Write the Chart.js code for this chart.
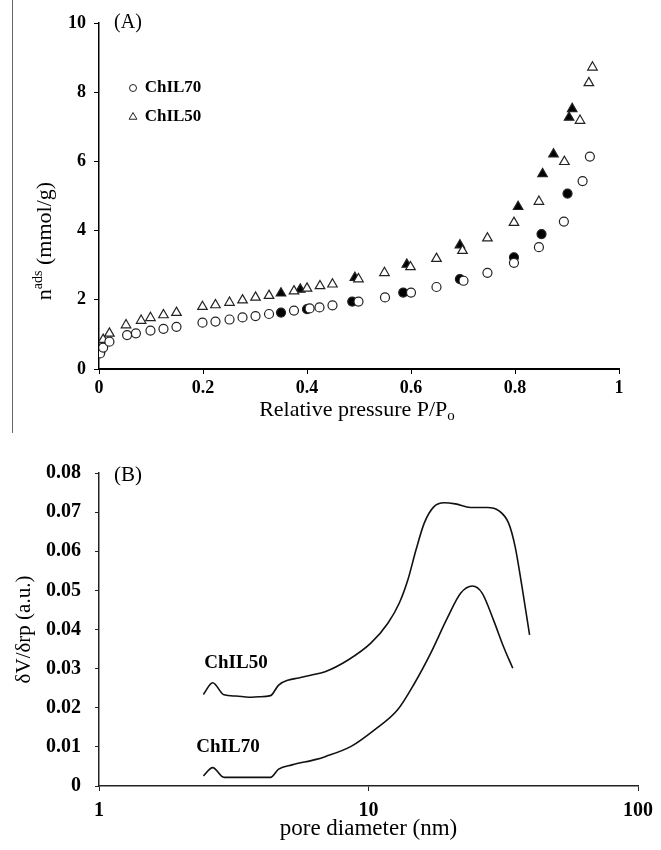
<!DOCTYPE html>
<html>
<head>
<meta charset="utf-8">
<title>Isotherms and pore size distribution</title>
<script src="https://cdn.jsdelivr.net/npm/chart.js@4.4.1/dist/chart.umd.min.js"></script>
<style>
  html, body { margin: 0; padding: 0; background: #fff; }
  #wrap { position: relative; width: 661px; height: 850px; overflow: hidden; }
  .box { position: absolute; left: 0; width: 661px; }
  #boxA { top: 0; height: 430px; }
  #boxB { top: 430px; height: 420px; }
  #edge { position: absolute; left: 12px; top: 0; height: 433px; border-left: 1.5px solid #666; }
</style>
</head>
<body>
<div id="wrap">
  <div id="edge"></div>
  <div class="box" id="boxA"><canvas id="chartA"></canvas></div>
  <div class="box" id="boxB"><canvas id="chartB"></canvas></div>
</div>
<script>
// (A) nitrogen isotherms, relative pressure vs amount adsorbed
const chil70AdsX = [0.002, 0.008, 0.02, 0.054, 0.071, 0.099, 0.124, 0.149, 0.199, 0.224, 0.251, 0.276, 0.301, 0.327, 0.375, 0.405, 0.424, 0.449, 0.499, 0.55, 0.60, 0.649, 0.701, 0.747, 0.798, 0.846, 0.894, 0.930, 0.944];
const chil70AdsY = [0.45, 0.62, 0.79, 0.98, 1.03, 1.11, 1.16, 1.22, 1.34, 1.37, 1.43, 1.49, 1.53, 1.59, 1.69, 1.75, 1.78, 1.84, 1.95, 2.07, 2.21, 2.37, 2.55, 2.78, 3.07, 3.52, 4.26, 5.43, 6.14];
const chil70DesX = [0.35, 0.40, 0.487, 0.585, 0.694, 0.798, 0.851, 0.901];
const chil70DesY = [1.63, 1.73, 1.95, 2.21, 2.60, 3.23, 3.90, 5.07];
const chil50AdsX = [0.002, 0.008, 0.02, 0.052, 0.081, 0.099, 0.124, 0.149, 0.199, 0.224, 0.251, 0.276, 0.301, 0.327, 0.375, 0.40, 0.425, 0.449, 0.499, 0.549, 0.599, 0.649, 0.699, 0.747, 0.798, 0.846, 0.895, 0.925, 0.942, 0.949];
const chil50AdsY = [0.55, 0.85, 1.03, 1.27, 1.40, 1.48, 1.56, 1.63, 1.80, 1.85, 1.92, 1.99, 2.07, 2.12, 2.25, 2.33, 2.40, 2.45, 2.60, 2.78, 2.95, 3.19, 3.42, 3.78, 4.23, 4.84, 5.99, 7.18, 8.27, 8.72];
const chil50DesX = [0.35, 0.387, 0.492, 0.592, 0.694, 0.806, 0.853, 0.874, 0.904, 0.910];
const chil50DesY = [2.19, 2.30, 2.64, 3.02, 3.58, 4.69, 5.64, 6.21, 7.27, 7.52];

// (B) pore size distribution
const chil50PoreX = [2.44, 2.64, 2.91, 3.22, 3.60, 3.92, 4.33, 4.64, 5.05, 5.5, 6.1, 6.9, 8.4, 10.2, 11.8, 13.0, 14.0, 15.0, 16.1, 17.5, 19.1, 21.0, 23.9, 27.6, 30.4, 33.1, 35.0, 37.1, 39.6];
const chil50PoreY = [0.0234, 0.0264, 0.0233, 0.0230, 0.0227, 0.0228, 0.0231, 0.0258, 0.0271, 0.0276, 0.0283, 0.0292, 0.0322, 0.0365, 0.0416, 0.0467, 0.0527, 0.0603, 0.0672, 0.0714, 0.0724, 0.0721, 0.0712, 0.0712, 0.0704, 0.0672, 0.0612, 0.0510, 0.0386];
const chil70PoreX = [2.44, 2.64, 2.91, 3.6, 4.33, 4.64, 5.2, 6.4, 6.9, 8.65, 10.5, 12.8, 14.8, 17.0, 19.6, 22.0, 24.3, 26.4, 29.1, 31.7, 34.3];
const chil70PoreY = [0.0026, 0.0047, 0.0022, 0.0022, 0.0022, 0.0043, 0.0054, 0.0068, 0.0075, 0.0102, 0.0143, 0.0194, 0.0262, 0.0339, 0.0429, 0.0493, 0.0511, 0.0493, 0.0424, 0.0356, 0.0301];

const tickXA = [0, 0.2, 0.4, 0.6, 0.8, 1];
const tickXB = [1, 10, 100];

const SERIF = '"Liberation Serif", "Times New Roman", "DejaVu Serif", serif';

function pairs(xs, ys) {
  return xs.map((x, i) => ({ x: x, y: ys[i] }));
}

// draws text made of runs [text, size, dy, weight] so sub/superscripts work
function drawRuns(ctx, runs, x, y, rotate) {
  let total = 0;
  runs.forEach(r => {
    ctx.font = (r[3] || 'normal') + ' ' + r[1] + 'px ' + SERIF;
    total += ctx.measureText(r[0]).width;
  });
  ctx.save();
  ctx.translate(x, y);
  if (rotate) ctx.rotate(rotate);
  ctx.textBaseline = 'middle';
  ctx.textAlign = 'left';
  ctx.fillStyle = '#000';
  let cx = -total / 2;
  runs.forEach(r => {
    ctx.font = (r[3] || 'normal') + ' ' + r[1] + 'px ' + SERIF;
    ctx.fillText(r[0], cx, r[2]);
    cx += ctx.measureText(r[0]).width;
  });
  ctx.restore();
}

const notesPlugin = {
  id: 'notes',
  afterDraw(chart, args, opts) {
    const ctx = chart.ctx;
    (opts.texts || []).forEach(t => drawRuns(ctx, t.runs, t.x, t.y, t.rotate));
    (opts.keys || []).forEach(k => {
      const ds = chart.data.datasets[k.index];
      ctx.save();
      ctx.fillStyle = ds.backgroundColor;
      ctx.strokeStyle = ds.borderColor;
      ctx.lineWidth = 1;
      if (k.marker) {
        Chart.helpers.drawPoint(ctx, { pointStyle: ds.pointStyle, radius: k.marker, borderWidth: 1, rotation: 0 }, k.x - 10, k.y);
      }
      ctx.restore();
      drawRuns(ctx, [[ds.label, k.size, 0, 'bold']], k.x + k.width / 2, k.y, 0);
    });
  }
};

function scatterSet(label, xs, ys, style, filled, r) {
  return {
    label: label,
    data: pairs(xs, ys),
    pointStyle: style,
    pointRadius: r,
    pointHoverRadius: r,
    pointBorderWidth: 1.2,
    borderColor: '#222',
    backgroundColor: filled ? '#000' : '#fff',
    showLine: false
  };
}

const chartA = new Chart(document.getElementById('chartA'), {
  type: 'scatter',
  data: {
    datasets: [
      scatterSet('ChIL70', chil70AdsX, chil70AdsY, 'circle', false, 4.5),
      scatterSet('ChIL50', chil50AdsX, chil50AdsY, 'triangle', false, 5.5),
      scatterSet('ChIL70 desorption', chil70DesX, chil70DesY, 'circle', true, 4.5),
      scatterSet('ChIL50 desorption', chil50DesX, chil50DesY, 'triangle', true, 5.5)
    ]
  },
  options: {
    responsive: true,
    maintainAspectRatio: false,
    animation: false,
    layout: { padding: { top: 23, right: 42, left: 0, bottom: 0 } },
    plugins: {
      legend: { display: false },
      tooltip: { enabled: false },
      notes: {
        texts: [
          { runs: [['(A)', 20, 0]], x: 128, y: 23 },
          { runs: [['n', 22, 0], ['ads', 14, -7], [' (mmol/g)', 22, 0]], x: 45, y: 241, rotate: -Math.PI / 2 },
          { runs: [['Relative pressure P/P', 22, 0], ['o', 15, 6]], x: 357, y: 410 }
        ],
        keys: [
          { index: 0, x: 143, y: 88, size: 17, width: 60, marker: 3.5 },
          { index: 1, x: 143, y: 117, size: 17, width: 60, marker: 4.5 }
        ]
      }
    },
    scales: {
      x: {
        type: 'linear',
        min: 0,
        max: 1,
        afterFit: s => { s.height = 61; },
        afterBuildTicks: s => { s.ticks = tickXA.map(v => ({ value: v })); },
        border: { color: '#000', width: 2 },
        grid: { drawOnChartArea: false, drawTicks: true, tickLength: 5, color: '#000' },
        ticks: {
          color: '#000',
          padding: 4,
          font: { family: SERIF, size: 18, weight: 'bold' },
          callback: v => String(Number(v.toFixed(1)))
        }
      },
      y: {
        min: 0,
        max: 10,
        afterFit: s => { s.width = 99; },
        border: { color: '#000', width: 1.5 },
        grid: { drawOnChartArea: false, drawTicks: true, tickLength: 5, color: '#000' },
        ticks: {
          stepSize: 2,
          color: '#000',
          padding: 8,
          font: { family: SERIF, size: 18, weight: 'bold' }
        }
      }
    }
  },
  plugins: [notesPlugin]
});

function lineSet(label, xs, ys) {
  return {
    label: label,
    data: pairs(xs, ys),
    borderColor: '#111',
    backgroundColor: '#111',
    borderWidth: 1.6,
    pointRadius: 0,
    fill: false,
    cubicInterpolationMode: 'monotone'
  };
}

const chartB = new Chart(document.getElementById('chartB'), {
  type: 'line',
  data: {
    datasets: [
      lineSet('ChIL50', chil50PoreX, chil50PoreY),
      lineSet('ChIL70', chil70PoreX, chil70PoreY)
    ]
  },
  options: {
    responsive: true,
    maintainAspectRatio: false,
    animation: false,
    layout: { padding: { top: 43, right: 19, left: 0, bottom: 0 } },
    plugins: {
      legend: { display: false },
      tooltip: { enabled: false },
      notes: {
        texts: [
          { runs: [['(B)', 21, 0]], x: 128, y: 45 }
        ],
        keys: [
          { index: 0, x: 204, y: 233, size: 19, width: 64 },
          { index: 1, x: 196, y: 317, size: 19, width: 64 }
        ]
      }
    },
    scales: {
      x: {
        type: 'logarithmic',
        min: 1,
        max: 100,
        afterFit: s => { s.height = 64; },
        afterBuildTicks: s => { s.ticks = tickXB.map(v => ({ value: v })); },
        border: { color: '#222', width: 1.5 },
        grid: { drawOnChartArea: false, drawTicks: true, tickLength: 5, color: '#222' },
        title: {
          display: true,
          text: 'pore diameter (nm)',
          color: '#000',
          font: { family: SERIF, size: 23 },
          padding: { top: 0, bottom: 7 }
        },
        ticks: {
          color: '#000',
          padding: 8,
          autoSkip: false,
          maxRotation: 0,
          font: { family: SERIF, size: 20, weight: 'bold' },
          callback: v => String(v)
        }
      },
      y: {
        min: 0,
        max: 0.08,
        afterFit: s => { s.width = 99; },
        border: { color: '#222', width: 1.5 },
        grid: { drawOnChartArea: false, drawTicks: true, tickLength: 4, color: '#222' },
        title: {
          display: true,
          text: 'δV/δrp (a.u.)',
          color: '#000',
          font: { family: SERIF, size: 21 },
          padding: { top: 12, bottom: 0 }
        },
        ticks: {
          stepSize: 0.01,
          color: '#000',
          padding: 14,
          font: { family: SERIF, size: 20, weight: 'bold' },
          callback: v => String(Number(v.toFixed(2)))
        }
      }
    }
  },
  plugins: [notesPlugin]
});
</script>
</body>
</html>
